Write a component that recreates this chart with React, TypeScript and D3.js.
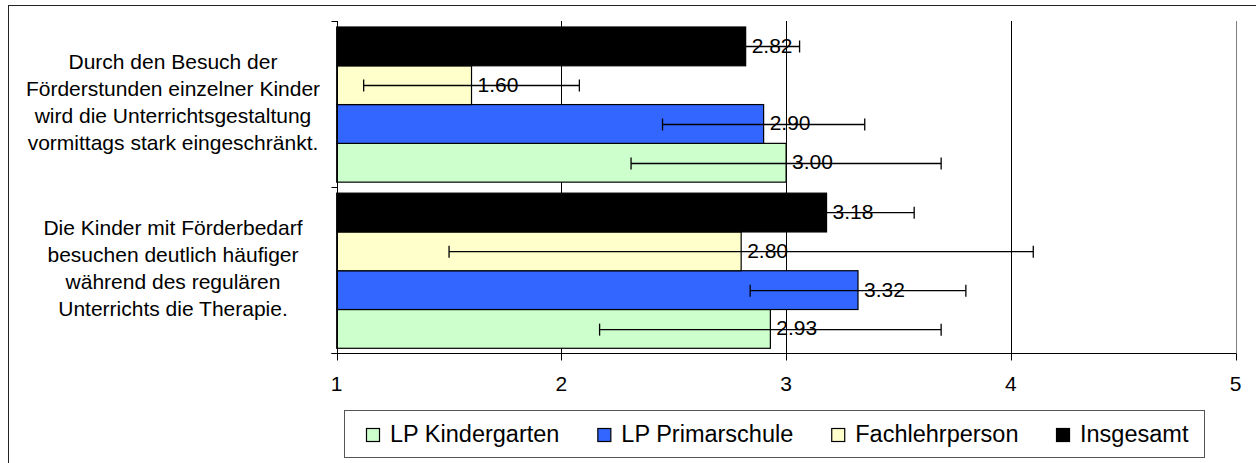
import React, { useMemo } from 'react';
import * as d3 from 'd3';

// ---- data ----
const categoryIds = ['besuch', 'therapie'];
const categoryLines = [
  ['Durch den Besuch der', 'Förderstunden einzelner Kinder', 'wird die Unterrichtsgestaltung', 'vormittags stark eingeschränkt.'],
  ['Die Kinder mit Förderbedarf', 'besuchen deutlich häufiger', 'während des regulären', 'Unterrichts die Therapie.'],
];
const seriesNames = ['LP Kindergarten', 'LP Primarschule', 'Fachlehrperson', 'Insgesamt'];
const seriesColors = ['#CCFFCC', '#3366FF', '#FFFFCC', '#000000'];
const kindergarten = [3.0, 2.93];
const primarschule = [2.9, 3.32];
const fachlehrperson = [1.6, 2.8];
const insgesamt = [2.82, 3.18];
const errKindergarten = [0.69, 0.76];
const errPrimarschule = [0.45, 0.48];
const errFachlehrperson = [0.48, 1.3];
const errInsgesamt = [0.24, 0.39];
const xTicks = [1, 2, 3, 4, 5];

const seriesValues = [kindergarten, primarschule, fachlehrperson, insgesamt];
const seriesErrors = [errKindergarten, errPrimarschule, errFachlehrperson, errInsgesamt];

const W = 1256;
const H = 463;
const FONT = "'Liberation Sans', Arial, sans-serif";

function measure(text: string, size: number) {
  const c = document.createElement('canvas').getContext('2d');
  if (!c) return text.length * size * 0.5;
  c.font = `${size}px ${FONT}`;
  return c.measureText(text).width;
}

export default function App() {
  const plotLeft = 336.7;
  const plotRight = 1235.5;
  const plotTop = 21;
  const plotBottom = 353.3;

  const x = d3.scaleLinear().domain([1, 5]).range([plotLeft, plotRight]);
  const y = d3.scaleBand<string>().domain(categoryIds).range([plotTop, plotBottom]);
  const bw = y.bandwidth();
  // top-to-bottom order inside a category: last series on top
  const inner = d3
    .scaleBand<string>()
    .domain([...seriesNames].reverse())
    .range([6, bw - 5]);
  const bh = inner.bandwidth();

  const legendFont = 23.5;
  const legendItems = useMemo(() => {
    let cx = 366.5;
    return seriesNames.map((name, i) => {
      const item = { name, color: seriesColors[i], x: cx };
      cx += 13 + 10.5 + measure(name, legendFont) + 38;
      return item;
    });
  }, []);

  const px = (v: number) => Math.round(v) + 0.5;

  return (
    <div style={{ position: 'absolute', left: 0, top: 0 }}>
      <svg width={W} height={H} style={{ display: 'block', background: '#fff' }} fontFamily={FONT}>
        {/* outer frame */}
        <rect x={8.5} y={5.5} width={W + 20} height={H + 20} fill="#fff" stroke="#222" strokeWidth={1} />

        {/* gridlines */}
        {xTicks.slice(1).map((t) => (
          <line key={'g' + t} x1={px(x(t))} x2={px(x(t))} y1={plotTop} y2={plotBottom} stroke={t === 5 ? '#808080' : '#000'} strokeWidth={1} />
        ))}

        {/* bars */}
        {categoryIds.map((cid, ci) => (
          <g key={cid} transform={`translate(0,${y(cid)})`}>
            {seriesNames.map((s, si) => {
              const v = seriesValues[si][ci];
              const yy = inner(s)!;
              return (
                <rect
                  key={s}
                  x={x(1)}
                  y={yy}
                  width={x(v) - x(1)}
                  height={bh}
                  fill={seriesColors[si]}
                  stroke="#000"
                  strokeWidth={1.2}
                />
              );
            })}
            {seriesNames.map((s, si) => {
              const v = seriesValues[si][ci];
              const yy = inner(s)! + bh / 2;
              return (
                <text key={'t' + s} x={x(v) + 6} y={yy + 6.5} fontSize={21} fill="#000">
                  {v.toFixed(2)}
                </text>
              );
            })}
            {seriesNames.map((s, si) => {
              const v = seriesValues[si][ci];
              const e = seriesErrors[si][ci];
              const yy = Math.round(inner(s)! + bh / 2) + 0.5;
              const lo = x(v - e);
              const hi = x(v + e);
              return (
                <g key={'e' + s} stroke="#000" strokeWidth={1.3}>
                  <line x1={lo} x2={hi} y1={yy} y2={yy} />
                  <line x1={lo} x2={lo} y1={yy - 6} y2={yy + 6} />
                  <line x1={hi} x2={hi} y1={yy - 6} y2={yy + 6} />
                </g>
              );
            })}
          </g>
        ))}

        {/* y axis */}
        <line x1={px(plotLeft)} x2={px(plotLeft)} y1={plotTop} y2={plotBottom} stroke="#000" />
        {[plotTop, ...categoryIds.map((c) => y(c)! + bw)].map((t, i) => (
          <line key={'yt' + i} x1={px(plotLeft) - 6} x2={px(plotLeft)} y1={px(t)} y2={px(t)} stroke="#000" />
        ))}

        {/* x axis */}
        <line x1={px(plotLeft) - 6} x2={px(plotRight)} y1={px(plotBottom)} y2={px(plotBottom)} stroke="#000" />
        {xTicks.map((t) => (
          <g key={'xt' + t}>
            <line x1={px(x(t))} x2={px(x(t))} y1={px(plotBottom)} y2={px(plotBottom) + 7} stroke="#000" />
            <text x={x(t)} y={390.5} fontSize={21} textAnchor="middle" fill="#000">
              {t}
            </text>
          </g>
        ))}

        {/* category labels */}
        {categoryIds.map((cid, ci) => {
          const cy = y(cid)! + bw / 2;
          const lines = categoryLines[ci];
          return (
            <text key={'cl' + cid} x={173} fontSize={21} textAnchor="middle" fill="#000">
              {lines.map((l, li) => (
                <tspan key={li} x={173} y={cy + 5.3 + (li - (lines.length - 1) / 2) * 27}>
                  {l}
                </tspan>
              ))}
            </text>
          );
        })}

        {/* legend */}
        <rect x={344.5} y={410.5} width={860} height={47} fill="#fff" stroke="#555" strokeWidth={1} />
        {legendItems.map((it) => (
          <g key={it.name}>
            <rect x={it.x} y={428.5} width={13} height={13} fill={it.color} stroke="#000" strokeWidth={1.2} />
            <text x={it.x + 23.5} y={442} fontSize={legendFont} fill="#000">
              {it.name}
            </text>
          </g>
        ))}
      </svg>
    </div>
  );
}
